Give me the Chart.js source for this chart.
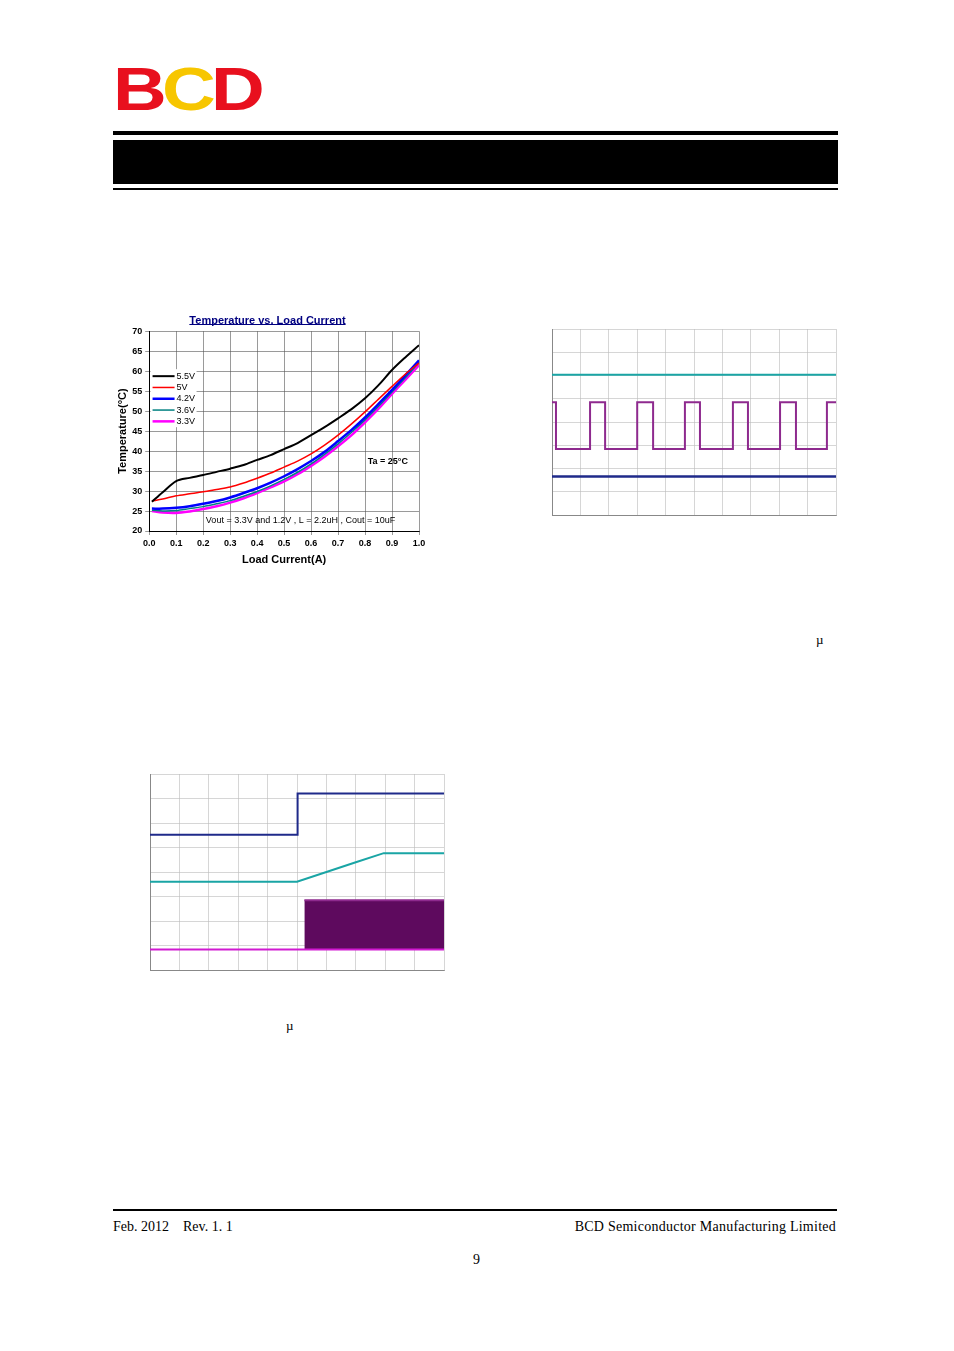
<!DOCTYPE html>
<html>
<head>
<meta charset="utf-8">
<script src="https://cdn.jsdelivr.net/npm/chart.js@4/dist/chart.umd.min.js"></script>
<style>
  body { margin: 0; width: 954px; height: 1351px; background: #fff; position: relative; font-family: "Liberation Serif", serif; }
  .abs { position: absolute; }
  .logo { left: 113px; top: 58px; font: 900 62px "Liberation Sans", Arial, sans-serif; color: #e8101e; letter-spacing: -4px; line-height: 62px; transform: scaleX(1.2); transform-origin: left; }
  .logo .c { color: #f7c600; }
  .rule { left: 113px; width: 725px; background: #000; }
  .foot { top: 1219px; font-size: 14px; }
</style>
</head>
<body>
<div class="abs logo">B<span class="c">C</span>D</div>
<div class="abs rule" style="top:131px;height:4px"></div>
<div class="abs rule" style="top:140px;height:44px"></div>
<div class="abs rule" style="top:188px;height:2px"></div>

<div class="abs" style="left:116px;top:312px;width:313px;height:257px"><canvas id="temp"></canvas></div>
<div class="abs" style="left:548px;top:326px;width:292px;height:196px"><canvas id="scope1"></canvas></div>
<div class="abs" style="left:146px;top:771px;width:302px;height:206px"><canvas id="scope2"></canvas></div>

<div class="abs" style="left:816px;top:632px;font-size:13px">µ</div>
<div class="abs" style="left:286px;top:1018px;font-size:13px">µ</div>

<div class="abs rule" style="top:1209px;height:2px;width:724px"></div>
<div class="abs foot" style="left:113px">Feb. 2012&nbsp;&nbsp;&nbsp; Rev. 1. 1</div>
<div class="abs foot" style="right:118px;letter-spacing:0.25px">BCD Semiconductor Manufacturing Limited</div>
<div class="abs" style="left:473px;top:1252px;font-size:14px">9</div>

<script>
// ── Temperature vs. Load Current data ─────────────────────
const currentA = [0.01, 0.05, 0.1, 0.15, 0.2, 0.25, 0.3, 0.35, 0.4, 0.45, 0.5,
                  0.55, 0.6, 0.65, 0.7, 0.75, 0.8, 0.85, 0.9, 0.95, 1.0];
const temp55 = [27.3, 29.7, 32.5, 33.3, 34.0, 34.8, 35.6, 36.5, 37.8, 39.0, 40.5,
                42.0, 44.0, 46.0, 48.2, 50.5, 53.2, 56.5, 60.3, 63.5, 66.5];
const temp50 = [27.5, 28.0, 28.8, 29.3, 29.8, 30.4, 31.0, 32.0, 33.2, 34.5, 36.0,
                37.5, 39.3, 41.5, 44.0, 46.8, 49.8, 53.0, 56.2, 59.3, 62.0];
const temp42 = [25.6, 25.6, 25.8, 26.2, 26.8, 27.5, 28.4, 29.5, 30.7, 32.1, 33.7,
                35.5, 37.5, 39.8, 42.5, 45.3, 48.4, 51.8, 55.3, 59.0, 62.7];
const temp36 = [25.2, 25.0, 25.1, 25.6, 26.1, 26.8, 27.6, 28.7, 29.9, 31.3, 32.9,
                34.7, 36.8, 39.2, 41.8, 44.7, 47.8, 51.2, 54.8, 58.4, 62.2];
const temp33 = [25.0, 24.6, 24.5, 24.9, 25.5, 26.2, 27.1, 28.2, 29.5, 30.9, 32.4,
                34.2, 36.3, 38.6, 41.2, 44.0, 47.2, 50.6, 54.3, 57.9, 61.5];
const seriesLabels = ['5.5V', '5V', '4.2V', '3.6V', '3.3V'];
const seriesColors = ['#000000', '#ff0000', '#0000ff', '#008080', '#ff00ff'];
const seriesWidths = [2, 1.5, 2.5, 1.5, 2.5];

// ── Scope traces (divisions) ──────────────────────────────
const s1Teal = [[0, 6.03], [10, 6.03]];
const s1Navy = [[0, 1.66], [10, 1.66]];
const s1Edges = [0.14, 1.34, 1.87, 3.0, 3.56, 4.68, 5.21, 6.37, 6.9, 8.03, 8.59, 9.68];
const s1High = 4.85, s1Low = 2.84;
const s2Navy = [[0, 5.52], [5.0, 5.52], [5.02, 7.2], [10, 7.2]];
const s2Teal = [[0, 3.6], [5.0, 3.6], [6.0, 4.0], [7.0, 4.4], [7.95, 4.77], [10, 4.77]];
const s2MagLow = [[0, 0.84], [10, 0.84]];
const s2MagHigh = [[5.25, 2.85], [10, 2.85]];

const pts = (xs, ys) => xs.map((x, i) => ({ x, y: ys[i] }));
const xy = (arr) => arr.map(([x, y]) => ({ x, y }));

function squareWave() {
  const out = [{ x: 0, y: s1High }];
  let level = s1High;
  s1Edges.forEach((e) => {
    out.push({ x: e, y: level });
    level = level === s1High ? s1Low : s1High;
    out.push({ x: e, y: level });
  });
  out.push({ x: 10, y: level });
  return out;
}

const legendPlugin = {
  id: 'tempExtras',
  afterDraw(chart) {
    const { ctx, scales: { x, y } } = chart;
    ctx.save();
    // legend box
    const lx = x.getPixelForValue(0.005), ly = y.getPixelForValue(60.5);
    ctx.fillStyle = '#fff';
    ctx.fillRect(lx, ly, 46, 58);
    ctx.font = '9px "Liberation Sans", Arial, sans-serif';
    ctx.textBaseline = 'middle';
    seriesLabels.forEach((lbl, i) => {
      const yy = ly + 7 + i * 11.3;
      ctx.strokeStyle = seriesColors[i];
      ctx.lineWidth = seriesWidths[i];
      ctx.beginPath(); ctx.moveTo(lx + 2, yy); ctx.lineTo(lx + 24, yy); ctx.stroke();
      ctx.fillStyle = '#000';
      ctx.fillText(lbl, lx + 26, yy);
    });
    ctx.font = 'bold 9px "Liberation Sans", Arial, sans-serif';
    ctx.fillText('Ta = 25°C', x.getPixelForValue(0.81), y.getPixelForValue(37.5));
    ctx.font = '9px "Liberation Sans", Arial, sans-serif';
    ctx.fillText('Vout = 3.3V and 1.2V , L = 2.2uH , Cout = 10uF', x.getPixelForValue(0.21), y.getPixelForValue(22.5));
    // title underline
    const tb = chart.titleBlock;
    ctx.font = 'bold 11px "Liberation Sans", Arial, sans-serif';
    const w = ctx.measureText(chart.options.plugins.title.text).width;
    const cx = (tb.left + tb.right) / 2;
    ctx.strokeStyle = '#000080'; ctx.lineWidth = 1;
    ctx.beginPath(); ctx.moveTo(cx - w / 2, tb.top + 12.5); ctx.lineTo(cx + w / 2, tb.top + 12.5); ctx.stroke();
    ctx.restore();
  },
};

const tickFont = { family: '"Liberation Sans", Arial, sans-serif', size: 9, weight: 'bold' };

new Chart(document.getElementById('temp'), {
  type: 'line',
  data: {
    datasets: [temp55, temp50, temp42, temp36, temp33].map((d, i) => ({
      label: seriesLabels[i],
      data: pts(currentA, d),
      borderColor: seriesColors[i],
      borderWidth: seriesWidths[i],
      pointRadius: 0,
      tension: 0.3,
    })),
  },
  options: {
    animation: false,
    responsive: true,
    maintainAspectRatio: false,
    layout: { padding: { right: 10 } },
    scales: {
      x: {
        type: 'linear', min: 0, max: 1,
        ticks: { stepSize: 0.1, color: '#000', font: tickFont, callback: (v) => v.toFixed(1) },
        grid: { color: '#555', lineWidth: 0.6, tickLength: 4 },
        border: { color: '#000' },
        title: { display: true, text: 'Load Current(A)', color: '#000', font: { ...tickFont, size: 11 }, padding: 2 },
      },
      y: {
        min: 20, max: 70,
        ticks: { stepSize: 5, color: '#000', font: tickFont },
        grid: { color: '#555', lineWidth: 0.6, tickLength: 4 },
        border: { color: '#000' },
        title: { display: true, text: 'Temperature(°C)', color: '#000', font: { ...tickFont, size: 11 }, padding: 0 },
      },
    },
    plugins: {
      legend: { display: false },
      tooltip: { enabled: false },
      title: {
        display: true, text: 'Temperature vs. Load Current', color: '#000080',
        font: { ...tickFont, size: 11 }, padding: { top: 2, bottom: 4 },
      },
    },
  },
  plugins: [legendPlugin],
});

// ── Oscilloscope captures ─────────────────────────────────
function scopeOptions() {
  const grid = { color: '#bbb', lineWidth: 0.6, borderDash: [1, 2], drawTicks: false };
  return {
    animation: false,
    responsive: true,
    maintainAspectRatio: false,
    layout: { padding: { left: 4, right: 4, top: 3, bottom: 7 } },
    scales: {
      x: { type: 'linear', min: 0, max: 10, ticks: { display: false, stepSize: 1 }, grid, border: { color: '#888' } },
      y: { min: 0, max: 8, ticks: { display: false, stepSize: 1 }, grid, border: { color: '#888' } },
    },
    plugins: { legend: { display: false }, tooltip: { enabled: false } },
  };
}

const line = (data, color, extra = {}) => ({
  data, borderColor: color, borderWidth: 2, pointRadius: 0, tension: 0, ...extra,
});

new Chart(document.getElementById('scope1'), {
  type: 'line',
  data: {
    datasets: [
      line(xy(s1Teal), '#1aa5a5'),
      line(squareWave(), '#8e2a8e'),
      line(xy(s1Navy), '#1f2a8a', { borderWidth: 2.5 }),
    ],
  },
  options: scopeOptions(),
});

new Chart(document.getElementById('scope2'), {
  type: 'line',
  data: {
    datasets: [
      line(xy(s2Navy), '#1f2a8a'),
      line(xy(s2Teal), '#1aa5a5'),
      line(xy(s2MagLow), '#d11ad1'),
      line(xy(s2MagHigh), '#8e2a8e', { fill: { target: { value: 0.84 } }, backgroundColor: '#5e0a5e' }),
    ],
  },
  options: scopeOptions(),
});
</script>
</body>
</html>
